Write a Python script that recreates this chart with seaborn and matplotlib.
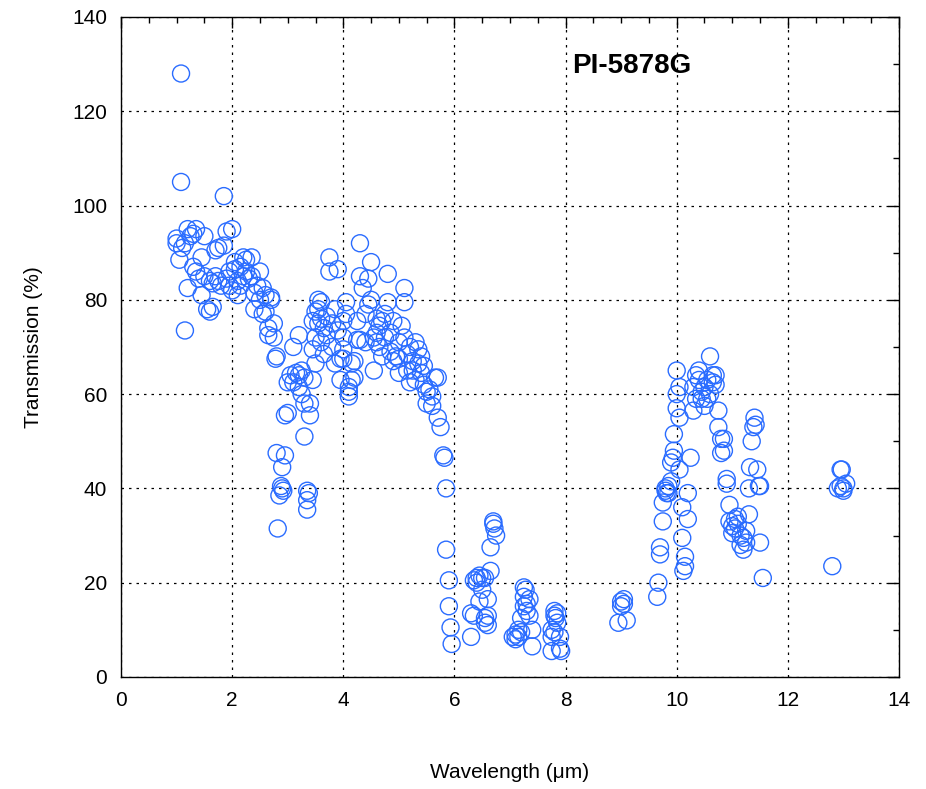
import numpy as np
import pandas as pd
import matplotlib
matplotlib.use("Agg")
import matplotlib.pyplot as plt
import seaborn as sns
from matplotlib.ticker import MultipleLocator

# ---- data ----
wl_a = [1.08, 1.08, 1.85, 1.0, 1.0, 1.05, 1.1, 1.15, 1.2, 1.25, 1.3, 1.35, 1.15, 1.2, 1.3, 1.35,
        1.4, 1.45, 1.45, 1.5, 1.5, 1.55, 1.6, 1.6, 1.65, 1.65, 1.7, 1.7, 1.75, 1.75, 1.8, 1.85,
        1.9, 1.9, 1.95, 1.95, 2.0, 2.0, 2.05, 2.05, 2.1, 2.1, 2.15, 2.15, 2.2, 2.2, 2.25, 2.25,
        2.3, 2.35, 2.35, 2.4, 2.4, 2.45, 2.5, 2.5, 2.55, 2.55, 2.6, 2.6, 2.65, 2.65, 2.7, 2.7,
        2.75, 2.75, 2.8, 2.78, 2.8, 2.82, 2.85, 2.9, 2.88, 2.92, 2.95, 2.9, 2.95, 3.0, 3.0, 3.05,
        3.1, 3.1, 3.15, 3.2, 3.2, 3.2, 3.25, 3.25, 3.3, 3.3, 3.3, 3.35, 3.35, 3.35, 3.38, 3.4,
        3.4, 3.45, 3.45]
tr_a = [128, 105, 102, 93, 92, 88.5, 91, 92, 95, 93.5, 94, 95, 73.5, 82.5, 87, 86,
        84.5, 81, 89, 93.5, 85, 78, 77.5, 84, 83.5, 78.5, 85, 90.5, 84, 91, 83, 91.5,
        84.5, 94.5, 86, 83, 95, 82, 88, 86.5, 84, 81, 87, 83, 89, 85, 86, 88.5,
        84.5, 85, 89, 81.5, 78, 83, 86, 80, 82.5, 77, 77.5, 81, 74, 72.5, 80, 80.5,
        75, 72, 68, 67.5, 47.5, 31.5, 38.5, 40, 40.5, 39.5, 47, 44.5, 55.5, 56, 62.5, 64,
        70, 62.5, 64.5, 72.5, 64, 61.5, 65, 60, 58, 63.5, 51, 39.5, 37.5, 35.5, 39, 55.5,
        58, 63, 69.5]

wl_b = [3.5, 3.5, 3.55, 3.55, 3.6, 3.6, 3.65, 3.65, 3.7, 3.7, 3.75, 3.75, 3.8, 3.8, 3.85, 3.85,
        3.9, 3.9, 3.95, 3.95, 4.0, 4.0, 4.05, 4.05, 4.1, 4.1, 4.15, 4.15, 4.2, 4.25, 4.25, 4.3,
        4.3, 4.3, 4.35, 4.4, 4.4, 4.45, 4.5, 4.5, 4.55, 4.55, 4.6, 4.6, 4.65, 4.65, 4.7, 4.7,
        4.75, 4.8, 4.8, 4.85, 4.85, 4.9, 4.9, 4.95, 5.0, 5.0, 5.05, 5.1, 5.1, 5.15, 5.15, 5.2,
        5.2, 5.25, 5.3, 5.3, 5.35, 5.35, 5.4, 5.4, 5.45, 5.45, 5.5, 5.5, 5.55, 5.6, 5.6, 5.65,
        5.7, 5.7, 5.75, 5.8, 5.82, 5.85, 5.85, 5.9, 5.9, 5.93, 5.95,
        4.0, 4.2, 4.45, 4.6, 4.75, 5.0, 5.1, 5.25, 4.1, 4.0, 3.6, 3.55, 3.45, 3.5]
tr_b = [77.5, 72, 80, 75, 79.5, 71, 68.5, 74, 72.5, 76.5, 86, 89, 75, 70, 66.5, 78,
        73.5, 86.5, 67.5, 63, 72, 67.5, 79.5, 77, 59.5, 61.5, 63, 66.5, 63.5, 75.5, 71.5, 85,
        92, 71.5, 82.5, 77, 71, 84.5, 80, 88, 72, 65, 73, 76, 74.5, 70, 68, 75.5,
        77, 85.5, 79.5, 73, 69, 67, 75.5, 68, 64.5, 71, 74.5, 82.5, 79.5, 68.5, 65, 70,
        62.5, 67, 71, 63, 69.5, 66.5, 68, 64.5, 62, 66, 60.5, 58, 61, 59.5, 57.5, 63.5,
        63.5, 55, 53, 47, 46.5, 40, 27, 20.5, 15, 10.5, 7,
        75.5, 67, 79, 71, 72, 67.5, 72, 65, 60.5, 69.5, 76, 78, 75.5, 66.5]

wl_c = [6.3, 6.3, 6.35, 6.35, 6.4, 6.4, 6.45, 6.45, 6.5, 6.5, 6.55, 6.55, 6.6, 6.6, 6.65, 6.65,
        6.7, 6.7, 6.72, 6.75, 6.55, 6.6,
        7.05, 7.1, 7.1, 7.15, 7.15, 7.2, 7.2, 7.25, 7.25, 7.28, 7.3, 7.3, 7.35, 7.35, 7.4, 7.4, 7.25,
        7.75, 7.75, 7.8, 7.8, 7.82, 7.85, 7.85, 7.9, 7.9, 7.92, 7.8, 7.75]
tr_c = [8.5, 13.5, 13, 20.5, 21, 20, 21.5, 16, 21, 18.5, 11.5, 12.5, 13, 16.5, 22.5, 27.5,
        32.5, 33, 31.5, 30, 21, 11,
        8.5, 8, 9, 10, 8.5, 12.5, 9.5, 19, 17, 18.5, 15.5, 14, 13, 16.5, 10, 6.5, 15,
        5.5, 8.5, 14, 13, 12.5, 13.5, 11.5, 8.5, 6, 5.5, 9.5, 10]

wl_d = [8.95, 9.0, 9.0, 9.05, 9.05, 9.1,
        9.65, 9.67, 9.7, 9.7, 9.75, 9.75, 9.8, 9.8, 9.82, 9.85, 9.85, 9.9, 9.9, 9.93, 9.95, 9.95,
        10.0, 10.0, 10.0, 10.05, 10.05, 10.05, 10.1, 10.1, 10.15, 10.15, 10.12, 10.2, 10.2, 10.25,
        10.3, 10.3, 10.35, 10.35, 10.4, 10.4, 10.45, 10.45, 10.5, 10.5, 10.55, 10.55, 10.6, 10.6,
        10.65, 10.65, 10.7, 10.7, 10.75, 10.75, 10.8, 10.8, 10.85, 10.85, 10.9, 10.9, 10.95, 10.95,
        11.0, 11.0, 11.05, 11.05, 11.1, 11.1, 11.15, 11.15, 11.2, 11.2, 11.25, 11.25, 11.3, 11.3,
        11.32, 11.35, 11.38, 11.4, 11.42, 11.45, 11.5, 11.48, 11.5, 11.55,
        12.8, 12.9, 12.95, 12.97, 13.0, 13.0, 13.05, 12.95]
tr_d = [11.5, 15, 16, 16.5, 15.5, 12,
        17, 20, 26, 27.5, 33, 37, 39.5, 40, 39, 40.5, 39, 41.5, 45.5, 46.5, 48, 51.5,
        57, 60, 65, 61.5, 55, 44, 36, 29.5, 25.5, 23.5, 22.5, 33.5, 39, 46.5,
        56.5, 61.5, 59, 64, 65, 63, 60.5, 59, 61.5, 57.5, 63, 59, 68, 60,
        64, 62.5, 64, 62, 56.5, 53, 50.5, 47.5, 50.5, 48, 42, 41, 36.5, 33,
        32, 30.5, 33.5, 31.5, 34, 32.5, 30, 28, 27, 29.5, 31, 28.5, 34.5, 40,
        44.5, 50, 53, 55, 53.5, 44, 40.5, 40.5, 28.5, 21,
        23.5, 40, 44, 44, 40, 39.5, 41, 40.5]

x_ticks = [0, 2, 4, 6, 8, 10, 12, 14]
y_ticks = [0, 20, 40, 60, 80, 100, 120, 140]
title_text = "PI-5878G"

df = pd.DataFrame({
    "Wavelength": wl_a + wl_b + wl_c + wl_d,
    "Transmission": tr_a + tr_b + tr_c + tr_d,
})

sns.set_theme(style="white")
plt.rcParams["font.family"] = ["Liberation Sans", "DejaVu Sans"]
plt.rcParams["text.color"] = "black"
plt.rcParams["axes.labelcolor"] = "black"
plt.rcParams["xtick.color"] = "black"
plt.rcParams["ytick.color"] = "black"

fig = plt.figure(figsize=(9.26, 7.89), dpi=100)
ax = fig.add_axes([0.1307, 0.1420, 0.8401, 0.8365])

sns.scatterplot(data=df, x="Wavelength", y="Transmission", ax=ax,
                marker="o", s=150, facecolors="none", edgecolor="#2a6cff",
                linewidth=1.0, legend=False, zorder=3)

ax.set_xlim(0, 14)
ax.set_ylim(0, 140)
ax.set_xticks(x_ticks)
ax.set_yticks(y_ticks)
ax.xaxis.set_minor_locator(MultipleLocator(0.5))
ax.yaxis.set_minor_locator(MultipleLocator(10))
ax.tick_params(which="both", direction="in", top=True, right=True,
               labelsize=15, colors="black", labelcolor="black")
ax.tick_params(which="major", length=8, width=1, pad=10)
ax.tick_params(which="minor", length=4, width=1)
ax.grid(True, which="major", color="black", linestyle=(0, (2, 4)), linewidth=0.9)
for sp in ax.spines.values():
    sp.set_color("black")
    sp.set_linewidth(1.0)

ax.set_xlabel("Wavelength (\u03bcm)", fontsize=15, labelpad=38, color="black")
ax.set_ylabel("Transmission (%)", fontsize=15, labelpad=21, color="black")

ax.text(9.2, 129.5, title_text, fontsize=20, fontweight="bold", ha="center",
        va="center", color="black")

fig.savefig("out.png", dpi=100)
